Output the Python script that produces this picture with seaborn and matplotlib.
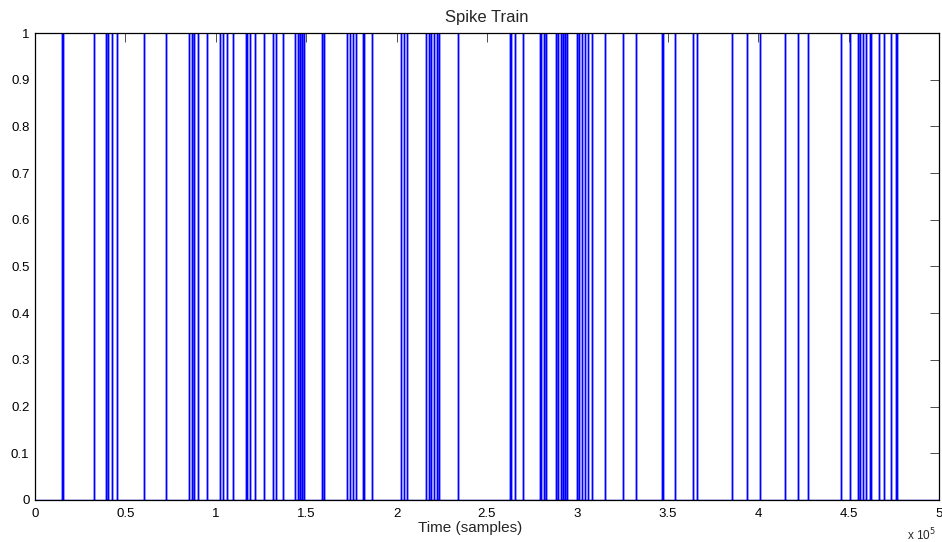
import numpy as np
import pandas as pd
import matplotlib
matplotlib.use("Agg")
import matplotlib.pyplot as plt
from matplotlib.ticker import FuncFormatter, MultipleLocator
import seaborn as sns

# Spike times (in samples) of the recorded train
spike_times = [
    14930, 15490, 32630, 39270, 40650, 42420, 45190, 60290, 72460,
    85450, 86560, 87670, 89990, 94970, 102320, 104150, 106200, 109680,
    116540, 117420, 118750, 121680, 126490, 131640, 133460, 137340,
    144080, 145470, 146570, 147510, 148780, 158740, 159850,
    172840, 174500, 175890, 177270, 181140, 181970, 186400,
    202440, 203820, 205590, 216260, 217760, 219300, 220960, 222070,
    223180, 233690,
    262720, 263550, 265490, 269640, 279040, 279870, 281250, 282630,
    288170, 289110, 290660, 291760, 292870, 294250, 299610, 300890,
    302270, 304370, 305590, 307910, 315270, 325390, 332140,
    346630, 347350, 353980, 363770, 366150, 385350, 393970, 401160,
    414830, 422020, 427710, 445800, 450780, 455040, 456310, 458240,
    459630, 461560, 462390, 466820, 469310, 473460, 476230, 476940,
]
n_samples = 500000
spike_height = 1.0

# Build the binary signal as a polyline: each spike rises to 1 and falls back
xs, ys = [0], [0.0]
for t in spike_times:
    xs += [t, t, t]
    ys += [0.0, spike_height, 0.0]
xs.append(n_samples)
ys.append(0.0)
train = pd.DataFrame({"sample": xs, "value": ys})

sns.set_theme(style="white")
plt.rcParams["font.family"] = ["Liberation Sans", "DejaVu Sans"]

fig = plt.figure(figsize=(9.42, 5.42), dpi=100, facecolor="white")
ax = fig.add_axes([35 / 942, 1 - 500 / 542, 904 / 942, 467 / 542])

sns.lineplot(data=train, x="sample", y="value", sort=False, estimator=None,
             color="#0000ff", linewidth=1.0, ax=ax)

ax.set_xlim(0, n_samples)
ax.set_ylim(0, 1)
ax.xaxis.set_major_locator(MultipleLocator(50000))
ax.yaxis.set_major_locator(MultipleLocator(0.1))
ax.xaxis.set_major_formatter(FuncFormatter(lambda v, p: f"{v / 1e5:g}"))
ax.yaxis.set_major_formatter(FuncFormatter(lambda v, p: f"{v:g}"))

ax.tick_params(direction="in", length=6.5, width=0.6, color="#303030",
               top=True, right=True, labelsize=9.5, pad=4, colors="black")
ax.tick_params(axis="x", pad=6)
ax.set_axisbelow(True)
for s in ax.spines.values():
    s.set_color("black")
    s.set_linewidth(0.9)

ax.set_title("Spike Train", fontsize=12, pad=8)
ax.set_xlabel("Time (samples)", fontsize=11)
ax.xaxis.set_label_coords(0.481, -0.06, transform=ax.transAxes)
ax.xaxis.label.set_va("center")
ax.set_ylabel("")
ax.text(0.996, -0.075, r"x 10$^5$", transform=ax.transAxes,
        ha="right", va="center", fontsize=8.5)

fig.savefig("out.png", dpi=100, facecolor="white")
